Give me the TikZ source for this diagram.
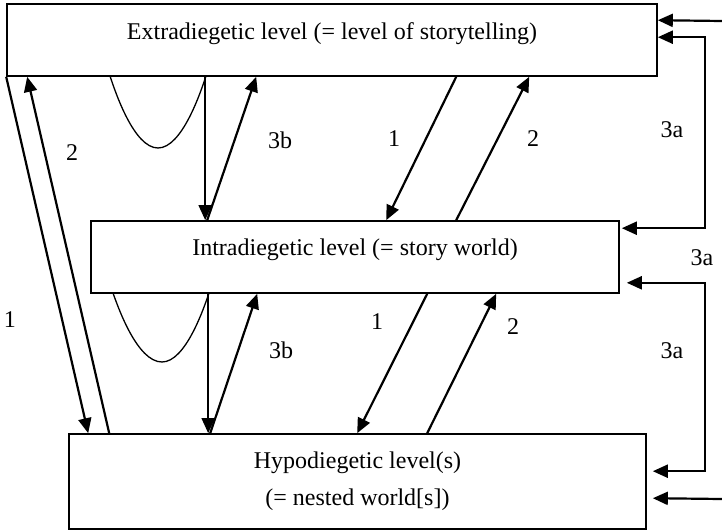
\documentclass[tikz,border=0pt]{standalone}
\usepackage{fontspec}
\setmainfont{Liberation Serif}
\usetikzlibrary{arrows.meta}

\begin{document}
\begin{tikzpicture}[x=1pt,y=-1pt,>={Triangle[length=15pt,width=13pt]},
  tier/.style={draw,line width=1.6pt,inner sep=0pt,
               font=\fontsize{24}{37}\selectfont},
  flow/.style={->,line width=2.2pt},
  lbl/.style={font=\fontsize{24}{28}\selectfont}]
  \useasboundingbox (0,0) rectangle (722,530);
  % the three levels
  \node[tier,minimum width=650pt,minimum height=72pt,
        text height=16pt,text depth=18pt] (extra) at (332,40)
    {Extradiegetic level (= level of storytelling)};
  \node[tier,minimum width=528pt,minimum height=72pt,
        text height=16pt,text depth=19pt] (intra) at (355,257)
    {Intradiegetic level (= story world)};
  \node[tier,minimum width=577pt,minimum height=95pt,align=center] (hypo) at (357.5,481.5)
    {Hypodiegetic level(s)\\(= nested world[s])};
  % left: extra <-> hypo
  \draw[flow] (extra.south west) -- ([xshift=20pt]hypo.north west);
  \draw[flow] ([xshift=41pt]hypo.north west) -- ([xshift=21pt]extra.south west);
  \node[lbl] (n2a) at (72,153) {2};
  \node[lbl] (n1a) at (10,320) {1};
  % extra -> intra
  \draw[line width=1.3pt] (110,76) parabola bend (158,148) (206,76);
  \draw[flow] ([xshift=199pt]extra.south west) -- ([xshift=115pt]intra.north west);
  \draw[flow] ([xshift=117pt]intra.north west) -- ([xshift=250pt]extra.south west);
  \node[lbl] (n3b1) at (280,140) {3b};
  \draw[flow] ([xshift=450pt]extra.south west) -- ([xshift=296pt]intra.north west);
  \draw[flow] ([xshift=366pt]intra.north west) -- ([xshift=523pt]extra.south west);
  \node[lbl] (n1b) at (394,139) {1};
  \node[lbl] (n2b) at (533,139) {2};
  % intra -> hypo
  \draw[line width=1.3pt] (113,293) parabola bend (162,362) (209,293);
  \draw[flow] ([xshift=118pt]intra.south west) -- ([xshift=140pt]hypo.north west);
  \draw[flow] ([xshift=142pt]hypo.north west) -- ([xshift=167pt]intra.south west);
  \node[lbl] (n3b2) at (281,350) {3b};
  \draw[flow] ([xshift=337pt]intra.south west) -- ([xshift=289pt]hypo.north west);
  \draw[flow] ([xshift=359pt]hypo.north west) -- ([xshift=406pt]intra.south west);
  \node[lbl] (n1c) at (377,322) {1};
  \node[lbl] (n2c) at (513,327) {2};
  % right side
  \coordinate (rin1) at (722,21);
  \coordinate (rin2) at (722,499);
  \draw[flow] (rin1) -- ([yshift=-17pt]extra.north east);
  \draw[<->,line width=2.2pt] ([xshift=2pt,yshift=-8pt]intra.north east) -- ++(83,0)
    |- ([yshift=-34pt]extra.north east);
  \draw[<->,line width=2.2pt] ([xshift=7pt,yshift=11pt]intra.south east) -- ++(78,0)
    |- ([xshift=6pt,yshift=-38pt]hypo.north east);
  \draw[flow] (rin2) -- ([xshift=6pt,yshift=-65pt]hypo.north east);
  \node[lbl] (n3a1) at (672,130) {3a};
  \node[lbl] (n3a2) at (702,258) {3a};
  \node[lbl] (n3a3) at (672,351) {3a};
\end{tikzpicture}
\end{document}
